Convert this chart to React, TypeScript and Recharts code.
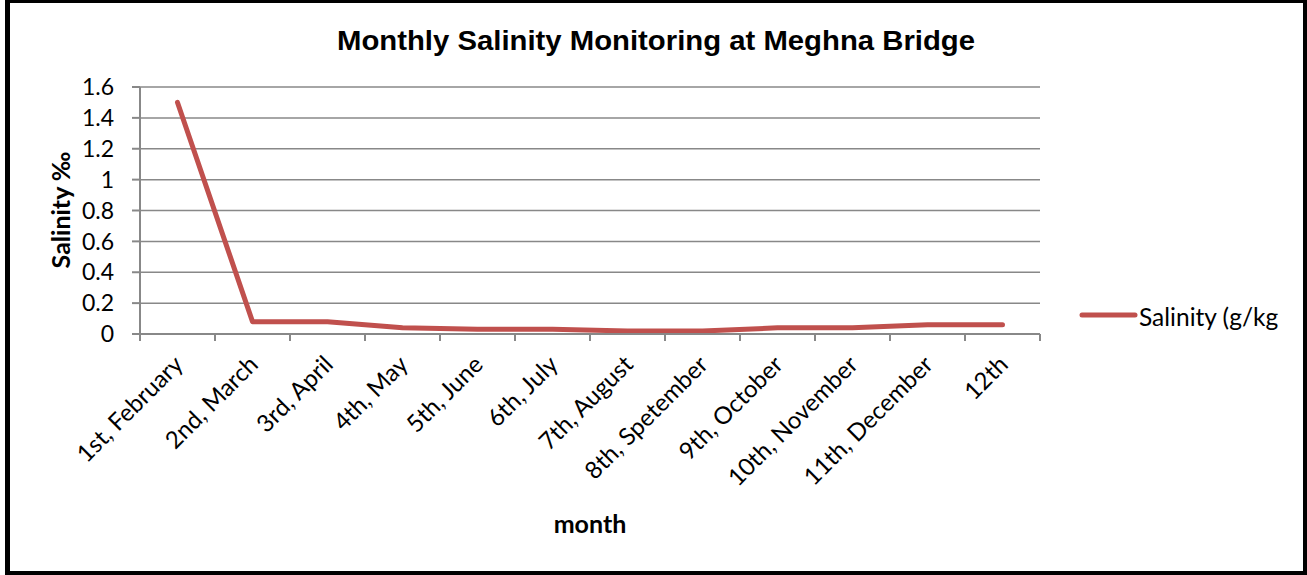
import { LineChart, Line, XAxis, YAxis, CartesianGrid } from 'recharts'

const months = [
  '1st, February', '2nd, March', '3rd, April', '4th, May', '5th, June', '6th, July',
  '7th, August', '8th, Spetember', '9th, October', '10th, November', '11th, December', '12th',
]
const salinity = [1.5, 0.08, 0.08, 0.04, 0.03, 0.03, 0.02, 0.02, 0.04, 0.04, 0.06, 0.06]
const yTicks = [0, 0.2, 0.4, 0.6, 0.8, 1, 1.2, 1.4, 1.6]
const seriesName = 'Salinity (g/kg'

const data = months.map((m, i) => ({ month: m, value: salinity[i] }))

const FONT = "Lato, 'Noto Sans', sans-serif"
const GRID = '#888888'
const RED = '#C0504D'
const W = 1307
const H = 575
const PLOT_LEFT = 140
const PLOT_RIGHT = 1040
const STEP = (PLOT_RIGHT - PLOT_LEFT) / months.length

function MonthTick({ x, y, payload, index }: { x?: number; y?: number; payload?: { value: string }; index?: number }) {
  if (x == null || y == null || !payload) return null
  const last = index === months.length - 1
  return (
    <g>
      <line x1={x - STEP / 2} x2={x - STEP / 2} y1={y} y2={y + 7} stroke={GRID} strokeWidth={2} />
      {last && <line x1={x + STEP / 2} x2={x + STEP / 2} y1={y} y2={y + 7} stroke={GRID} strokeWidth={2} />}
      <text
        transform={`translate(${x + 7},${y + 32}) rotate(-45)`}
        textAnchor="end"
        fontSize={24}
        fontFamily={FONT}
        fill="#000"
      >
        {payload.value}
      </text>
    </g>
  )
}

export default function App() {
  return (
    <div style={{ position: 'absolute', left: 0, top: 0, width: W, height: H, background: '#fff' }}>
      <LineChart width={W} height={H} data={data} margin={{ top: 87, right: W - PLOT_RIGHT, bottom: 0, left: 0 }}>
        <CartesianGrid vertical={false} stroke={GRID} strokeWidth={1.5} />
        <XAxis
          dataKey="month"
          scale="band"
          height={241}
          interval={0}
          tickLine={false}
          tickSize={0}
          tickMargin={0}
          axisLine={{ stroke: GRID, strokeWidth: 2 }}
          tick={<MonthTick />}
        />
        <YAxis
          width={PLOT_LEFT}
          domain={[0, 1.6]}
          ticks={yTicks}
          interval={0}
          tickSize={8}
          tickMargin={18}
          axisLine={{ stroke: GRID, strokeWidth: 2 }}
          tickLine={{ stroke: GRID, strokeWidth: 2 }}
          tick={{ fontSize: 23, fontFamily: FONT, fill: '#000' }}
        />
        <Line
          type="linear"
          dataKey="value"
          name={seriesName}
          stroke={RED}
          strokeWidth={5}
          strokeLinecap="round"
          strokeLinejoin="round"
          dot={false}
          activeDot={false}
          isAnimationActive={false}
        />
        <text
          x={656}
          y={50}
          textAnchor="middle"
          fontSize={28}
          fontWeight="bold"
          fontFamily="'Liberation Sans', Arial, sans-serif"
          textLength={638}
          lengthAdjust="spacingAndGlyphs"
          fill="#000"
        >
          Monthly Salinity Monitoring at Meghna Bridge
        </text>
        <text
          transform="translate(60,210) rotate(-90)"
          textAnchor="middle"
          dominantBaseline="central"
          fontSize={25}
          fontWeight="bold"
          fontFamily={FONT}
          fill="#000"
        >
          Salinity ‰
        </text>
        <text
          x={590}
          y={523}
          textAnchor="middle"
          dominantBaseline="central"
          fontSize={25}
          fontWeight="bold"
          fontFamily={FONT}
          fill="#000"
        >
          month
        </text>
        <g>
          <line x1={1082} x2={1135} y1={315} y2={315} stroke={RED} strokeWidth={5} strokeLinecap="round" />
          <text x={1139} y={316} dominantBaseline="central" fontSize={24.5} fontFamily={FONT} fill="#000">
            {seriesName}
          </text>
        </g>
      </LineChart>
      <div
        style={{
          position: 'absolute',
          left: 5,
          top: 0,
          width: W - 5,
          height: H,
          boxSizing: 'border-box',
          borderStyle: 'solid',
          borderColor: '#000',
          borderWidth: '3px 4px 4px 5px',
          pointerEvents: 'none',
        }}
      />
    </div>
  )
}
